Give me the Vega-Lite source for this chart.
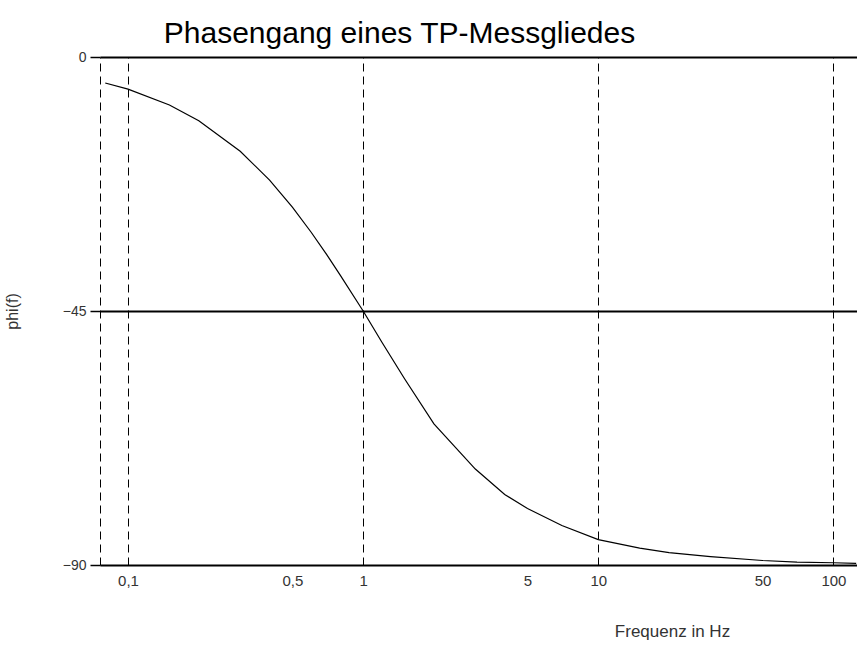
{
  "$schema": "https://vega.github.io/schema/vega-lite/v6.json",
  "width": 757,
  "height": 508,
  "autosize": {"type": "none"},
  "padding": {"left": 100, "top": 57, "right": 0, "bottom": 80},
  "background": "white",
  "title": {
    "text": "Phasengang eines TP-Messgliedes",
    "font": "Liberation Sans",
    "fontSize": 30,
    "fontWeight": "normal",
    "color": "black",
    "anchor": "middle",
    "dx": -79,
    "offset": 1
  },
  "config": {
    "view": {"stroke": null},
    "axis": {"labelFont": "Liberation Sans", "titleFont": "Liberation Sans"}
  },
  "data": {
    "values": [
      {"f": 0.08, "phi": -4.6},
      {"f": 0.1, "phi": -5.7},
      {"f": 0.15, "phi": -8.5},
      {"f": 0.2, "phi": -11.3},
      {"f": 0.3, "phi": -16.7},
      {"f": 0.4, "phi": -21.8},
      {"f": 0.5, "phi": -26.6},
      {"f": 0.6, "phi": -31.0},
      {"f": 0.7, "phi": -35.0},
      {"f": 0.8, "phi": -38.7},
      {"f": 1, "phi": -45.0},
      {"f": 1.2, "phi": -50.5},
      {"f": 1.5, "phi": -57.0},
      {"f": 2, "phi": -65.0},
      {"f": 3, "phi": -73.0},
      {"f": 4, "phi": -77.5},
      {"f": 5, "phi": -80.0},
      {"f": 7, "phi": -83.0},
      {"f": 10, "phi": -85.5},
      {"f": 15, "phi": -87.0},
      {"f": 20, "phi": -87.8},
      {"f": 30, "phi": -88.5},
      {"f": 50, "phi": -89.2},
      {"f": 70, "phi": -89.5},
      {"f": 100, "phi": -89.6},
      {"f": 125, "phi": -89.7}
    ]
  },
  "resolve": {"axis": {"x": "independent"}},
  "layer": [
    {
      "mark": {"type": "line", "color": "black", "strokeWidth": 1.2, "clip": true},
      "encoding": {
        "x": {
          "field": "f",
          "type": "quantitative",
          "scale": {"type": "log", "domain": [0.076, 126], "nice": false},
          "axis": {
            "title": "Frequenz in Hz",
            "titleFontSize": 17,
            "titleFontWeight": "normal",
            "titleColor": "#333",
            "titleX": 572,
            "titleY": 58,
            "values": [0.1, 0.5, 1, 5, 10, 50, 100],
            "labelExpr": "replace(format(datum.value, '~g'), '.', ',')",
            "labelFontSize": 15,
            "labelColor": "#333",
            "labelPadding": 8,
            "ticks": false,
            "domain": false,
            "grid": false
          }
        },
        "y": {
          "field": "phi",
          "type": "quantitative",
          "scale": {"domain": [-90, 0], "nice": false},
          "axis": {
            "title": "phi(f)",
            "titleFontSize": 16,
            "titleFontWeight": "normal",
            "titleColor": "#333",
            "titleX": -80,
            "values": [0, -45, -90],
            "labelFontSize": 14,
            "labelColor": "#333",
            "tickSize": 10,
            "tickColor": "black",
            "tickWidth": 1.5,
            "labelPadding": 4,
            "domain": true,
            "domainColor": "black",
            "domainDash": [8, 5],
            "domainWidth": 1,
            "grid": true,
            "gridColor": "black",
            "gridWidth": 2,
            "gridOpacity": 1
          }
        }
      }
    },
    {
      "mark": {"type": "line", "opacity": 0},
      "encoding": {
        "x": {
          "field": "f",
          "type": "quantitative",
          "axis": {
            "title": null,
            "values": [0.1, 1, 10, 100],
            "labels": false,
            "ticks": false,
            "domain": false,
            "grid": true,
            "gridColor": "black",
            "gridWidth": 1,
            "gridDash": [8, 5],
            "gridOpacity": 1
          }
        },
        "y": {"field": "phi", "type": "quantitative"}
      }
    }
  ]
}
